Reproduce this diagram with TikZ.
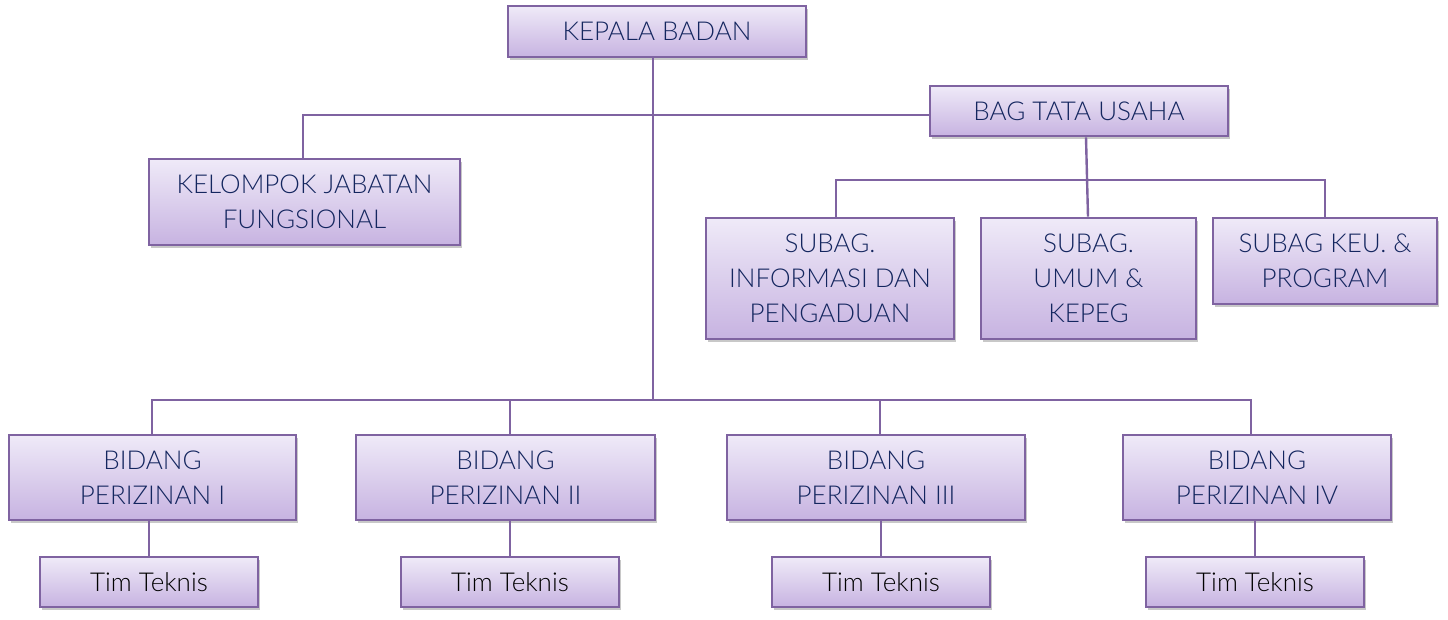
\documentclass[tikz,border=0pt]{standalone}
\usepackage{fontspec}
\setmainfont{Lato Light}
\usetikzlibrary{shadows}
\definecolor{lineC}{HTML}{7F63A1}
\definecolor{topC}{HTML}{EFEAF8}
\definecolor{botC}{HTML}{C7B3E1}
\definecolor{txtC}{HTML}{14265F}
\tikzset{
  box/.style={draw=lineC, line width=2.6pt, top color=topC, bottom color=botC,
    drop shadow={shadow xshift=2pt, shadow yshift=-3pt, opacity=0.3, fill=black!70},
    align=center, text=txtC, font=\fontsize{26}{35}\selectfont, inner sep=0pt},
  tim/.style={box, text=black, minimum width=218pt, minimum height=50pt},
  bid/.style={box, minimum height=85pt},
  conn/.style={draw=lineC, line width=2.4pt},
}
\begin{document}
\begin{tikzpicture}[x=1pt,y=-1pt]
\fill[white] (0,0) rectangle (1448,619);
\useasboundingbox (0,0) rectangle (1448,619);
\coordinate (h1) at (303,115);
\coordinate (j1) at (653,400);
\coordinate (h2) at (836,180);
\coordinate (h3) at (1325,180);
\coordinate (v1) at (152,400);
\coordinate (v2) at (510,400);
\coordinate (v3) at (880,400);
\coordinate (v4) at (1251,400);

\node[box, minimum width=298pt, minimum height=51pt] (kb) at (657,31.5) {KEPALA BADAN};
\node[box, minimum width=298pt, minimum height=50pt] (bag) at (1079,111) {BAG TATA USAHA};
\node[box, minimum width=311pt, minimum height=86pt] (kel) at (304.5,202) {KELOMPOK JABATAN\\FUNGSIONAL};
\node[box, minimum width=248pt, minimum height=121pt] (info) at (830,278.5) {SUBAG.\\INFORMASI DAN\\PENGADUAN};
\node[box, minimum width=215pt, minimum height=121pt] (umum) at (1088.5,278.5) {SUBAG.\\UMUM \&\\KEPEG};
\node[box, minimum width=224pt, minimum height=86pt] (keu) at (1325,261) {SUBAG KEU. \&\\PROGRAM};

\node[bid, minimum width=287pt] (b1) at (152.5,477.5) {BIDANG\\PERIZINAN I};
\node[bid, minimum width=299pt] (b2) at (505.5,477.5) {BIDANG\\PERIZINAN II};
\node[bid, minimum width=298pt] (b3) at (876,477.5) {BIDANG\\PERIZINAN III};
\node[bid, minimum width=268pt] (b4) at (1257,477.5) {BIDANG\\PERIZINAN IV};

\node[tim] (t1) at (149,582) {Tim Teknis};
\node[tim] (t2) at (510,582) {Tim Teknis};
\node[tim] (t3) at (881,582) {Tim Teknis};
\node[tim] (t4) at (1255,582) {Tim Teknis};

\draw[conn] (kb.south -| j1) -- (j1);
\draw[conn] (kel.north -| h1) -- (h1) -- (bag.west |- h1);
\draw[conn] (bag.south -| 1086,0) -- (umum.north -| 1088,0);
\draw[conn] (info.north -| h2) -- (h2) -- (h3) -- (keu.north -| h3);
\draw[conn] (b1.north -| v1) -- (v1) -- (v4) -- (b4.north -| v4);
\draw[conn] (v2) -- (b2.north -| v2);
\draw[conn] (v3) -- (b3.north -| v3);
\draw[conn] (b1.south -| t1.north) -- (t1.north);
\draw[conn] (b2.south -| t2.north) -- (t2.north);
\draw[conn] (b3.south -| t3.north) -- (t3.north);
\draw[conn] (b4.south -| t4.north) -- (t4.north);
\end{tikzpicture}
\end{document}
